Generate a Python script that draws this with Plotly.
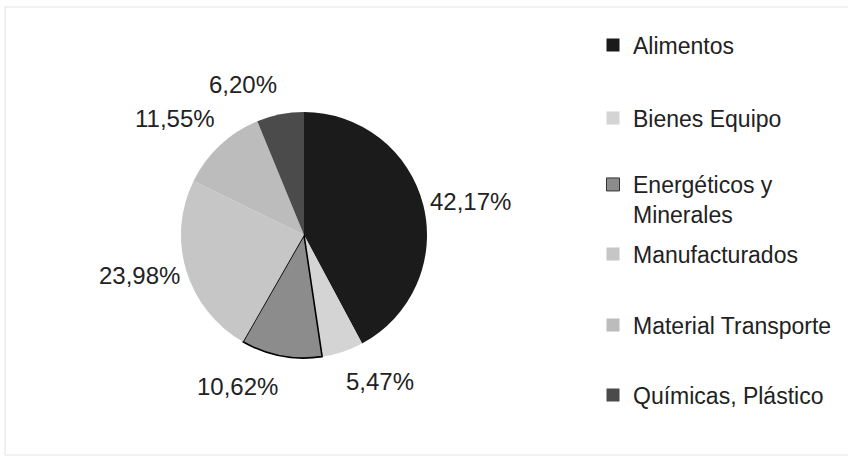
import math
import plotly.graph_objects as go

# Export structure by product group (share of total, %)
categorias = [
    "Alimentos",
    "Bienes Equipo",
    "Energéticos y Minerales",
    "Manufacturados",
    "Material Transporte",
    "Químicas, Plástico",
]
porcentajes = [42.17, 5.47, 10.62, 23.98, 11.55, 6.20]
etiquetas_leyenda = [
    "Alimentos",
    "Bienes Equipo",
    "Energéticos y<br>Minerales",
    "Manufacturados",
    "Material Transporte",
    "Químicas, Plástico",
]
colores = ["#1b1b1b", "#d4d4d4", "#8c8c8c", "#c6c6c6", "#bcbcbc", "#4b4b4b"]
grosor_borde = [0, 0, 1.6, 0, 0, 0]

textos = [f"{v:.2f}".replace(".", ",") + "%" for v in porcentajes]

W, H = 848, 462
FUENTE = "Liberation Sans, Arial, sans-serif"
TEXTO = "#222222"

# Pie geometry in pixels
CX, CY, R = 304, 235, 123

fig = go.Figure()

fig.add_trace(go.Pie(
    labels=categorias,
    values=porcentajes,
    sort=False,
    direction="clockwise",
    rotation=0,
    marker=dict(colors=colores, line=dict(color="#000000", width=grosor_borde)),
    textinfo="none",
    showlegend=False,
    domain=dict(x=[(CX - R) / W, (CX + R) / W], y=[1 - (CY + R) / H, 1 - (CY - R) / H]),
    hoverinfo="label+percent",
))

# Percentage labels placed just outside each slice's mid-angle
total = sum(porcentajes)
acumulado = 0.0
anotaciones = []
for valor, texto in zip(porcentajes, textos):
    medio = (acumulado + valor / 2) / total * 2 * math.pi
    acumulado += valor
    dx, dy = math.sin(medio), -math.cos(medio)
    px = CX + dx * (R + 5)
    py = CY + dy * (R + 15)
    xanchor = "left" if dx > 0 else "right"
    if abs(dy) < 0.4:
        yanchor = "middle"
    else:
        yanchor = "top" if dy > 0 else "bottom"
    anotaciones.append(dict(
        x=px / W, y=1 - py / H, xref="paper", yref="paper",
        text=texto, showarrow=False, xanchor=xanchor, yanchor=yanchor,
        font=dict(size=24, color=TEXTO, family=FUENTE),
    ))

# Legend entries, one legend box per category so each row sits at its own height
filas_y = [45, 118, 199.5, 254, 325, 395]
for i, (nombre, color) in enumerate(zip(etiquetas_leyenda, colores)):
    clave = "legend" if i == 0 else f"legend{i + 1}"
    fig.add_trace(go.Scatter(
        x=[None], y=[None],
        mode="markers",
        name=nombre,
        marker=dict(symbol="square", size=13, color=color,
                    line=dict(color="#333333", width=1 if grosor_borde[i] else 0)),
        legend=clave,
        showlegend=True,
        hoverinfo="skip",
    ))
    fig.layout[clave] = dict(
        x=593 / W, xanchor="left",
        y=1 - filas_y[i] / H, yanchor="middle",
        valign="top",
        font=dict(size=23, color=TEXTO, family=FUENTE),
        bgcolor="rgba(0,0,0,0)",
        borderwidth=0,
    )

fig.update_layout(
    width=W, height=H,
    margin=dict(l=0, r=0, t=0, b=0),
    paper_bgcolor="white",
    plot_bgcolor="white",
    xaxis=dict(visible=False),
    yaxis=dict(visible=False),
    annotations=anotaciones,
    shapes=[dict(
        type="rect", xref="paper", yref="paper",
        x0=5 / W, x1=1.02, y0=1 - 455 / H, y1=1 - 7 / H,
        line=dict(color="#e2e2e2", width=1),
    )],
)

fig.write_html("out.html")
